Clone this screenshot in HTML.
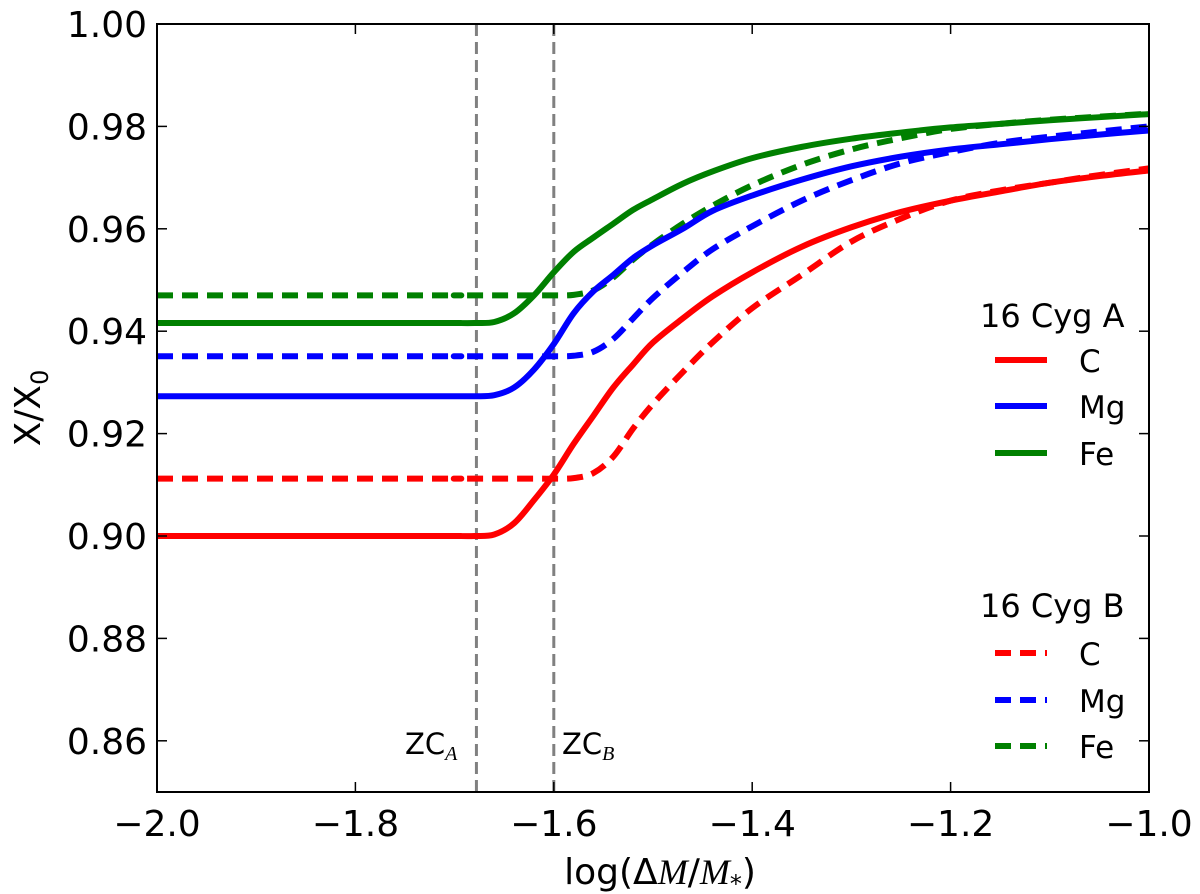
<!DOCTYPE html>
<html><head><meta charset="utf-8"><style>
body{margin:0;background:#fff;}
svg text{font-family:"DejaVu Sans","Liberation Sans",sans-serif;}
</style></head><body>
<svg id="chart" width="1200" height="894" xmlns="http://www.w3.org/2000/svg" style="position:absolute;left:0;top:0"></svg>
<script>
const xTicks=[-2.0,-1.8,-1.6,-1.4,-1.2,-1.0];
const xTickLabels=["\u22122.0","\u22121.8","\u22121.6","\u22121.4","\u22121.2","\u22121.0"];
const yTicks=[0.86,0.88,0.90,0.92,0.94,0.96,0.98,1.00];
const yTickLabels=["0.86","0.88","0.90","0.92","0.94","0.96","0.98","1.00"];
const zcA=-1.678, zcB=-1.6;
const xs=[-2.0,-1.72,-1.70,-1.68,-1.66,-1.64,-1.62,-1.60,-1.58,-1.56,-1.54,-1.52,-1.50,-1.47,-1.44,-1.40,-1.35,-1.30,-1.25,-1.20,-1.15,-1.10,-1.05,-1.0];
const cA=[0.900,0.900,0.900,0.900,0.9003,0.9025,0.907,0.912,0.918,0.9235,0.929,0.9335,0.9378,0.9425,0.9468,0.9515,0.9565,0.9603,0.9633,0.9655,0.9673,0.969,0.9703,0.9714];
const cB=[0.9112,0.9112,0.9112,0.9112,0.9112,0.9112,0.9112,0.9112,0.9113,0.9123,0.9155,0.921,0.9258,0.932,0.9378,0.9445,0.951,0.9575,0.962,0.9655,0.9675,0.969,0.9705,0.9718];
const mgA=[0.9273,0.9273,0.9273,0.9273,0.9275,0.929,0.9325,0.9375,0.9435,0.9478,0.951,0.9543,0.9568,0.960,0.9635,0.9665,0.9696,0.9722,0.9741,0.9755,0.9765,0.9775,0.9784,0.9792];
const mgB=[0.9351,0.9351,0.9351,0.9351,0.9351,0.9351,0.9351,0.9351,0.9352,0.936,0.9385,0.9425,0.9465,0.9515,0.956,0.9605,0.9655,0.9695,0.9728,0.975,0.9768,0.978,0.979,0.980];
const feA=[0.9416,0.9416,0.9416,0.9416,0.9418,0.9435,0.947,0.9515,0.9555,0.9583,0.961,0.9637,0.9658,0.9688,0.9712,0.9738,0.976,0.9776,0.9788,0.9798,0.9805,0.9812,0.9818,0.9824];
const feB=[0.947,0.947,0.947,0.947,0.947,0.947,0.947,0.947,0.9471,0.948,0.9505,0.954,0.957,0.961,0.9645,0.9685,0.9725,0.9755,0.9777,0.9795,0.9805,0.9813,0.9819,0.9825];
const L=157,R=1149,T=24,B=792;
const X=v=>L+(v+2.0)/1.0*(R-L);
const Y=v=>B-(v-0.85)/0.15*(B-T);
const ns="http://www.w3.org/2000/svg";
const svg=document.getElementById('chart');
function el(t,a,txt){const e=document.createElementNS(ns,t);for(const k in a)e.setAttribute(k,a[k]);if(txt!==undefined)e.textContent=txt;svg.appendChild(e);return e;}
const clip=el('clipPath',{id:'cp'});const cr=document.createElementNS(ns,'rect');cr.setAttribute('x',L);cr.setAttribute('y',T);cr.setAttribute('width',R-L);cr.setAttribute('height',B-T);clip.appendChild(cr);
[[zcA,'zc-a-line'],[zcB,'zc-b-line']].forEach(([v,n])=>{
 const e=el('line',{x1:X(v),x2:X(v),y1:T,y2:B,stroke:'#808080','stroke-width':3,'stroke-dasharray':'12,6'});
 
 
});
const series=[[cB,'red',true,'line-c-b'],[mgB,'blue',true,'line-mg-b'],[feB,'green',true,'line-fe-b'],[cA,'red',false,'line-c-a'],[mgA,'blue',false,'line-mg-a'],[feA,'green',false,'line-fe-a']];
series.forEach(([ys,c,d,n])=>{
 const pts=xs.map((x,i)=>[X(x),Y(ys[i])]);
 let p='M'+pts[0][0]+','+pts[0][1];
 for(let i=1;i<pts.length;i++){
  if(i===1){p+=' L'+pts[1][0]+','+pts[1][1];continue;}
  const p0=pts[i-2],p1=pts[i-1],p2=pts[i],p3=pts[i+1]||pts[i];
  p+=' C'+(p1[0]+(p2[0]-p0[0])/6)+','+(p1[1]+(p2[1]-p0[1])/6)+' '+(p2[0]-(p3[0]-p1[0])/6)+','+(p2[1]-(p3[1]-p1[1])/6)+' '+p2[0]+','+p2[1];}
 const a={d:p,fill:'none',stroke:c,'stroke-width':6,'clip-path':'url(#cp)'};
 if(d)a['stroke-dasharray']='16,9';
 const e=el('path',a);
 
 
});
const fr=el('rect',{x:L,y:T,width:R-L,height:B-T,fill:'none',stroke:'#000','stroke-width':2});


xTicks.forEach((v,i)=>{
 el('line',{x1:X(v),x2:X(v),y1:B,y2:B-10,stroke:'#000','stroke-width':1.5});
 el('line',{x1:X(v),x2:X(v),y1:T,y2:T+10,stroke:'#000','stroke-width':1.5});
 const t=el('text',{x:X(v),y:B+44,'font-size':36,'text-anchor':'middle'},xTickLabels[i]);
 
 
});
yTicks.forEach((v,i)=>{
 el('line',{x1:L,x2:L+10,y1:Y(v),y2:Y(v),stroke:'#000','stroke-width':1.5});
 el('line',{x1:R,x2:R-10,y1:Y(v),y2:Y(v),stroke:'#000','stroke-width':1.5});
 const t=el('text',{x:L-10,y:Y(v)+13,'font-size':36,'text-anchor':'end'},yTickLabels[i]);
 
 
});
</script>
<svg style="position:absolute;left:0;top:0" width="1200" height="894" xmlns="http://www.w3.org/2000/svg">
<text x="660" y="884" font-size="36" text-anchor="middle">log(Δ<tspan font-style="italic" font-family="Liberation Serif">M</tspan>/<tspan font-style="italic" font-family="Liberation Serif">M</tspan><tspan font-size="24" dy="8">*</tspan><tspan dy="-8">)</tspan></text>
<text transform="translate(40,408) rotate(-90)" font-size="36" text-anchor="middle">X/X<tspan font-size="24" dy="8">0</tspan></text>
<text x="405" y="754" font-size="29">ZC<tspan font-size="20" dy="6" font-style="italic" font-family="Liberation Serif">A</tspan></text>
<text x="562" y="754" font-size="29">ZC<tspan font-size="20" dy="6" font-style="italic" font-family="Liberation Serif">B</tspan></text>
<g>
<text x="980" y="327" font-size="32">16 Cyg A</text>
<line x1="995" x2="1047" y1="360" y2="360" stroke="red" stroke-width="6"/><text x="1079" y="372" font-size="31">C</text>
<line x1="995" x2="1047" y1="406" y2="406" stroke="blue" stroke-width="6"/><text x="1079" y="418" font-size="31">Mg</text>
<line x1="995" x2="1047" y1="453" y2="453" stroke="green" stroke-width="6"/><text x="1079" y="465" font-size="31">Fe</text>
</g>
<g>
<text x="980" y="617" font-size="32">16 Cyg B</text>
<line x1="995" x2="1047" y1="653" y2="653" stroke="red" stroke-width="6" stroke-dasharray="16,9"/><text x="1079" y="665" font-size="31">C</text>
<line x1="995" x2="1047" y1="700" y2="700" stroke="blue" stroke-width="6" stroke-dasharray="16,9"/><text x="1079" y="712" font-size="31">Mg</text>
<line x1="995" x2="1047" y1="746" y2="746" stroke="green" stroke-width="6" stroke-dasharray="16,9"/><text x="1079" y="758" font-size="31">Fe</text>
</g>
</svg>
</body></html>
